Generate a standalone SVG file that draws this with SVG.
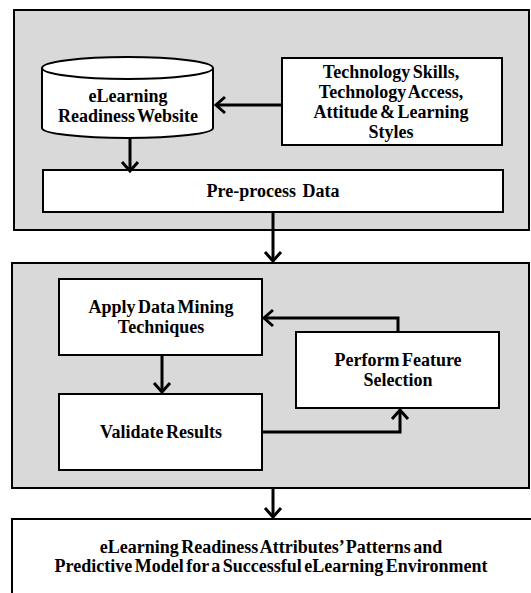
<svg xmlns="http://www.w3.org/2000/svg" width="531" height="593" viewBox="0 0 531 593">
<style>
.panel{fill:#d9d9d9;stroke:#000;stroke-width:2}
.box{fill:#fff;stroke:#000;stroke-width:2}
.lbl{font-family:"Liberation Serif",serif;font-weight:bold;font-size:18px;fill:#000;text-anchor:middle;word-spacing:-2px}
.conn{fill:none;stroke:#000;stroke-width:3}
</style>
<defs>
<marker id="ah" markerUnits="userSpaceOnUse" markerWidth="24" markerHeight="24" viewBox="-14 -12 16 24" refX="0" refY="0" orient="auto">
<path d="M-9,-8 L0,0 L-9,8" fill="none" stroke="#000" stroke-width="3"/>
</marker>
</defs>
<g id="panel1"><rect class="panel" x="14" y="10" width="515" height="220"/></g>
<g id="panel2"><rect class="panel" x="12" y="263" width="517" height="225"/></g>
<g id="website">
<path class="box" d="M42,68 L42,128 A85.5,10 0 0 0 213,128 L213,68"/>
<ellipse class="box" cx="127.5" cy="68" rx="85.5" ry="11"/>
<text class="lbl" x="128" y="102">eLearning</text>
<text class="lbl" x="128" y="122">Readiness Website</text>
</g>
<g id="techskills">
<rect class="box" x="282" y="58" width="220" height="87"/>
<text class="lbl" x="391" y="78">Technology Skills,</text>
<text class="lbl" x="391" y="98">Technology Access,</text>
<text class="lbl" x="391" y="118">Attitude &amp; Learning</text>
<text class="lbl" x="391" y="138">Styles</text>
</g>
<g id="preprocess">
<rect class="box" x="43" y="170" width="460" height="42"/>
<text class="lbl" x="273" y="197" style="word-spacing:2px">Pre-process Data</text>
</g>
<g id="applydm">
<rect class="box" x="59" y="279" width="203" height="76"/>
<text class="lbl" x="161" y="313">Apply Data Mining</text>
<text class="lbl" x="161" y="333">Techniques</text>
</g>
<g id="validate">
<rect class="box" x="59" y="394" width="203" height="76"/>
<text class="lbl" x="161" y="438">Validate Results</text>
</g>
<g id="featsel">
<rect class="box" x="296" y="332" width="203" height="76"/>
<text class="lbl" x="398" y="366">Perform Feature</text>
<text class="lbl" x="398" y="386">Selection</text>
</g>
<g id="result">
<rect class="box" x="12" y="519" width="530" height="90"/>
<text class="lbl" x="271" y="553">eLearning Readiness Attributes’ Patterns and</text>
<text class="lbl" x="271" y="572">Predictive Model for a Successful eLearning Environment</text>
</g>
<g id="connectors">
<path class="conn" d="M282,105 L216,105" marker-end="url(#ah)"/>
<path class="conn" d="M130,137 L130,171" marker-end="url(#ah)"/>
<path class="conn" d="M273,212 L273,261" marker-end="url(#ah)"/>
<path class="conn" d="M162,355 L162,392" marker-end="url(#ah)"/>
<path class="conn" d="M398,332 L398,318 L264,318" marker-end="url(#ah)"/>
<path class="conn" d="M262,432 L400,432 L400,410" marker-end="url(#ah)"/>
<path class="conn" d="M273,488 L273,517" marker-end="url(#ah)"/>
</g>
</svg>
